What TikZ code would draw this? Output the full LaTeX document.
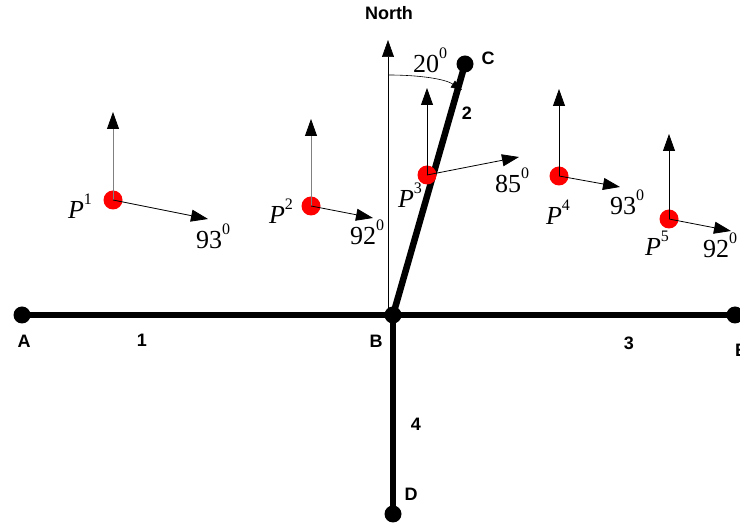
\documentclass[tikz,border=0pt]{standalone}
\usepackage{fontspec}
\setmainfont{Liberation Serif}
\setsansfont{Liberation Sans}
\usetikzlibrary{arrows.meta}
\newcommand{\pl}[1]{\textit{P}\raisebox{0.55em}{\fontsize{16}{16}\selectfont #1}}
\newcommand{\dg}[1]{#1\raisebox{0.55em}{\fontsize{16}{16}\selectfont 0}}
\begin{document}
\begin{tikzpicture}[x=1pt,y=-1pt,
  road/.style={line width=6.5pt},
  jn/.style={circle,fill=black,inner sep=0pt,minimum size=17pt},
  pdot/.style={circle,fill=red,inner sep=0pt,minimum size=19pt},
  lab/.style={font=\sffamily\bfseries\fontsize{18}{22}\selectfont,inner sep=0pt},
  mlab/.style={font=\fontsize{26}{30}\selectfont,inner sep=0pt},
  tip/.style={-{Triangle[length=17pt,width=12pt,color=black]}},
  arr/.style={tip,line width=0.8pt},
  garr/.style={arr,draw=black!50}]
\useasboundingbox (0,0) rectangle (740,526);
% junctions
\node[jn] (A) at (22,315) {};
\node[jn] (B) at (393,315) {};
\node[jn] (E) at (735,315) {};
\node[jn] (C) at (465,64) {};
\node[jn] (D) at (393,514) {};
% north reference
\coordinate (Nb) at (388,315);
\coordinate (Nt) at (388,40);
\draw[arr,line width=0.6pt] (Nb) -- (Nt);
\coordinate (arcS) at (388,75);
\coordinate (arcE) at (462,90);
\draw[-{Triangle[length=11pt,width=8pt]},line width=0.6pt] (arcS) .. controls (420,75) and (445,79) .. (arcE);
% roads
\draw[road] (A.center) -- (B.center) -- (E.center);
\draw[road] (B.center) -- (C.center);
\draw[road] (B.center) -- (D.center);
% labels
\node[lab] (lN) at (389,13) {North};
\node[lab] (lC) at (488,58) {C};
\node[lab] (l2) at (467,113) {2};
\node[lab] (lA) at (24,341) {A};
\node[lab] (l1) at (142,340) {1};
\node[lab] (lB) at (376,341) {B};
\node[lab] (l3) at (629,343) {3};
\node[lab,anchor=west] (lE) at (735,350) {E};
\node[lab] (l4) at (416,424) {4};
\node[lab] (lD) at (411,494) {D};
\node[mlab] (l20) at (430,60) {\dg{20}};
% P points
\node[pdot] (P1) at (113,200) {};
\node[pdot] (P2) at (311,206) {};
\node[pdot] (P3) at (427,175) {};
\node[pdot] (P4) at (559,176) {};
\node[pdot] (P5) at (669,219) {};
\coordinate (P1n) at (113,112);
\coordinate (P2n) at (311,119);
\coordinate (P3n) at (427,88);
\coordinate (P4n) at (559,89);
\coordinate (P5n) at (669,134);
\coordinate (P1d) at (208,219);
\coordinate (P2d) at (373,218);
\coordinate (P3d) at (519,157);
\coordinate (P4d) at (620,187);
\coordinate (P5d) at (731,231);
\draw[garr] (P1.center) -- (P1n);
\draw[garr] (P2.center) -- (P2n);
\draw[arr] (P3.center) -- (P3n);
\draw[arr] (P4.center) -- (P4n);
\draw[arr] (P5.center) -- (P5n);
\foreach \i in {1,...,5} \draw[arr] (P\i.center) -- (P\i d);
\node[mlab] (lP1) at (80,206) {\pl{1}};
\node[mlab] (lP2) at (281,211) {\pl{2}};
\node[mlab] (lP3) at (410,195) {\pl{3}};
\node[mlab] (lP4) at (558,212) {\pl{4}};
\node[mlab] (lP5) at (657,243) {\pl{5}};
\node[mlab] (a1) at (213,236) {\dg{93}};
\node[mlab] (a2) at (367,232) {\dg{92}};
\node[mlab] (a3) at (512,180) {\dg{85}};
\node[mlab] (a4) at (627,202) {\dg{93}};
\node[mlab] (a5) at (720,245) {\dg{92}};
\end{tikzpicture}
\end{document}
